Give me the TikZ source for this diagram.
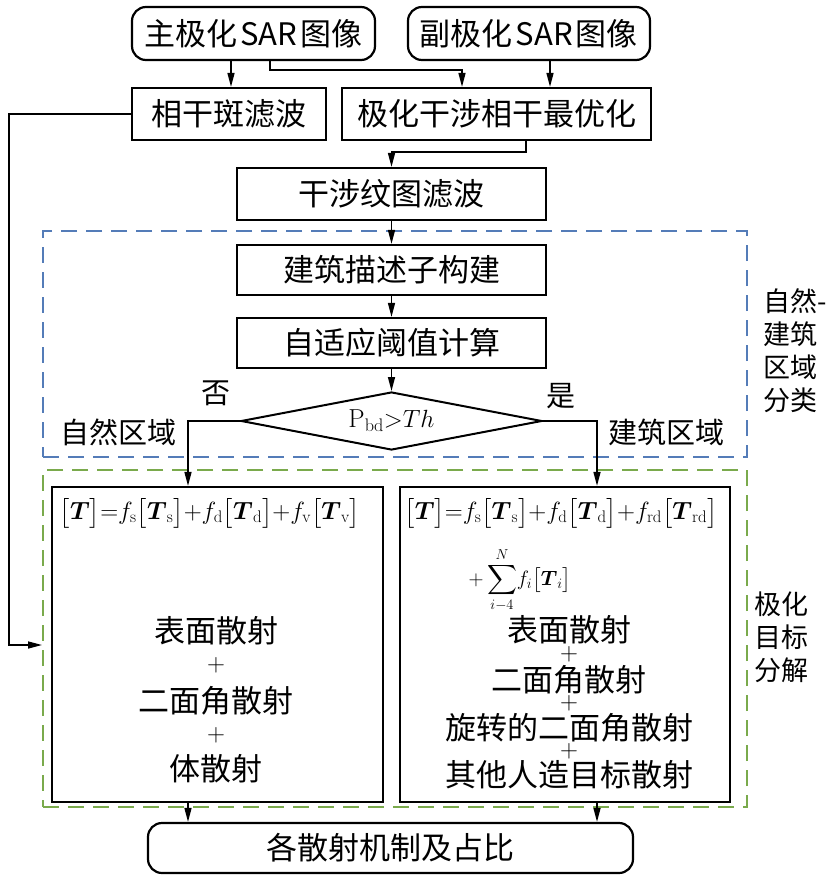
\documentclass[tikz,border=0pt]{standalone}
\usepackage{amsmath}
\usepackage{fontspec}
\newfontfamily\cjk{Noto Sans CJK SC}
\usetikzlibrary{arrows.meta,shapes.geometric}
\definecolor{dblue}{RGB}{84,124,184}
\definecolor{dgreen}{RGB}{122,170,76}
\begin{document}
\begin{tikzpicture}[x=1pt,y=-1pt,
  box/.style={draw,line width=2.2pt,inner sep=0pt,font=\cjk\fontsize{31}{36}\selectfont},
  rbox/.style={box,rounded corners=14pt},
  arr/.style={line width=1.5pt,-{Triangle[length=14pt,width=7pt]}},
  lbl/.style={font=\cjk\fontsize{29}{34}\selectfont,inner sep=0pt},
  txt/.style={font=\cjk\fontsize{31}{36}\selectfont,inner sep=0pt,text height=26pt,text depth=2pt},
  pls/.style={font=\fontsize{24}{26}\selectfont,inner sep=0pt,text height=12pt,text depth=0pt},
  fml/.style={font=\fontsize{24}{28}\selectfont,inner sep=0pt},
  side/.style={font=\cjk\fontsize{27}{33}\selectfont,align=left,inner sep=0pt},
  dbox/.style={draw,line width=2pt,dash pattern=on 16pt off 9pt,inner sep=0pt}]
\useasboundingbox[fill=white] (0,0) rectangle (839,884);

% dashed groups
\node[dbox,draw=dblue,minimum width=704pt,minimum height=226pt] (blue) at (395,344) {};
\node[dbox,draw=dgreen,minimum width=704pt,minimum height=337pt] (green) at (395,638.5) {};

% boxes
\node[rbox,minimum width=243pt,minimum height=53pt] (m1) at (253.5,33.5) {主极化\hspace{3pt}SAR\hspace{3pt}图像};
\node[rbox,minimum width=242pt,minimum height=53pt] (m2) at (529,33.5) {副极化\hspace{3pt}SAR\hspace{3pt}图像};
\node[box,minimum width=194pt,minimum height=52pt] (f1) at (229,114) {相干斑滤波};
\node[box,minimum width=309pt,minimum height=52pt] (f2) at (496.5,114) {极化干涉相干最优化};
\node[box,minimum width=309pt,minimum height=52pt] (f3) at (391.5,194) {干涉纹图滤波};
\node[box,minimum width=309pt,minimum height=50pt] (f4) at (391.5,270) {建筑描述子构建};
\node[box,minimum width=309pt,minimum height=50pt] (f5) at (391.5,343) {自适应阈值计算};
\node[draw,diamond,aspect=5.2,line width=2pt,inner sep=0pt,minimum width=301pt,minimum height=58pt,
      font=\fontsize{26}{30}\selectfont] (dia) at (391.5,421) {\raisebox{3pt}{$\mathrm{P}_{\mathrm{bd}}{>}Th$}};
\node[box,minimum width=331pt,minimum height=315pt] (lb) at (217.5,644.5) {};
\node[box,minimum width=330pt,minimum height=315pt] (rb) at (565,644.5) {};
\node[rbox,minimum width=485pt,minimum height=50pt] (bot) at (390.5,848) {各散射机制及占比};

% labels
\node[lbl] (no) at (216,393) {否};
\node[lbl] (yes) at (561,396) {是};
\node[lbl] (nat) at (118,432) {自然区域};
\node[lbl] (bld) at (666,432) {建筑区域};
\node[side] (s1) at (795,351) {自然-\\建筑\\区域\\分类};
\node[side] (s2) at (781,637) {极化\\目标\\分解};

% left box content
\node[fml] (lf) at (210,513) {$\bigl[\boldsymbol{T}\bigr]{=}f_{\mathrm{s}}\bigl[\boldsymbol{T}_{\mathrm{s}}\bigr]{+}f_{\mathrm{d}}\bigl[\boldsymbol{T}_{\mathrm{d}}\bigr]{+}f_{\mathrm{v}}\bigl[\boldsymbol{T}_{\mathrm{v}}\bigr]$};
\node[txt] (l1) at (216,630) {表面散射};
\node[pls] (lp1) at (216,665) {$+$};
\node[txt] (l2) at (216,700) {二面角散射};
\node[pls] (lp2) at (216,735) {$+$};
\node[txt] (l3) at (216,768) {体散射};

% right box content
\node[fml] (rf) at (561,513) {$\bigl[\boldsymbol{T}\bigr]{=}f_{\mathrm{s}}\bigl[\boldsymbol{T}_{\mathrm{s}}\bigr]{+}f_{\mathrm{d}}\bigl[\boldsymbol{T}_{\mathrm{d}}\bigr]{+}f_{\mathrm{rd}}\bigl[\boldsymbol{T}_{\mathrm{rd}}\bigr]$};
\node[fml,font=\fontsize{21}{25}\selectfont] (rs) at (520,580) {$\displaystyle {+}\sum_{i-4}^{N}\!f_i\bigl[\boldsymbol{T}_i\bigr]$};
\node[txt] (r1) at (569,629) {表面散射};
\node[pls] (rp1) at (569,654) {$+$};
\node[txt] (r2) at (569,679) {二面角散射};
\node[pls] (rp2) at (569,703) {$+$};
\node[txt] (r3) at (569,727) {旋转的二面角散射};
\node[pls] (rp3) at (569,751) {$+$};
\node[txt] (r4) at (569,774) {其他人造目标散射};

% connectors
\draw[arr] ([xshift=-22.5pt]m1.south) -- ([xshift=-22.5pt]m1.south |- f1.north);
\draw[arr] ([xshift=16.5pt]m1.south) -- ++(0,9) -| ([xshift=-34.5pt]f2.north);
\draw[arr] ([xshift=21pt]m2.south) -- ([xshift=21pt]m2.south |- f2.north);
\draw[arr] ([xshift=29.5pt]f2.south) -- ++(0,11) -| (f3.north);
\draw[arr] (f3.south) -- (f4.north);
\draw[arr] (f4.south) -- (f5.north);
\draw[arr] (f5.south) -- (dia.north);
\draw[arr] (dia.west) -| ([xshift=-29.5pt]lb.north);
\draw[arr] (dia.east) -| ([xshift=32pt]rb.north);
\draw[arr] ([xshift=-29.5pt]lb.south) -- ([xshift=-29.5pt]lb.south |- bot.north);
\draw[arr] ([xshift=32pt]rb.south) -- ([xshift=32pt]rb.south |- bot.north);
\draw[arr] (f1.west) -- ++(-122,0) |- ([yshift=-6.5pt]green.west);
\end{tikzpicture}
\end{document}
